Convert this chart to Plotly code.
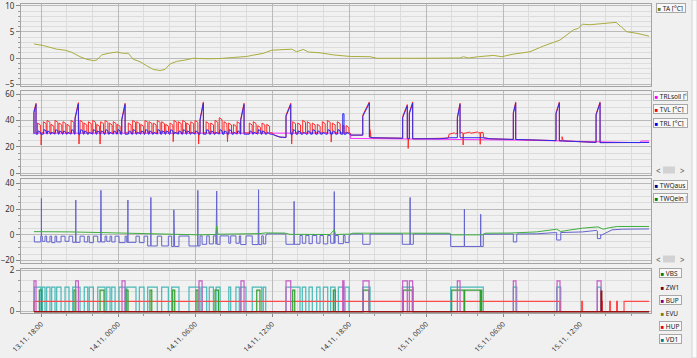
import numpy as np
import plotly.graph_objects as go
from datetime import datetime, timedelta

W, H = 697, 358
BASE = datetime(2019, 11, 13)          # hours below are counted from 13.11. 00:00
T_START, T_END = 17.45, 65.38
X_RANGE = [16.44, 65.53]
FONT = "Noto Sans"

# ---------------- Panel 1: outside temperature ----------------
TA_T = [17.45, 18.18, 19.22, 19.87, 20.39, 21.04, 21.56, 22.08, 22.34, 22.73, 23.24, 23.90, 24.41, 24.80, 25.19,
        25.71, 26.24, 26.75, 27.27, 27.66, 28.05, 28.57, 29.22, 29.87, 30.91, 31.95, 32.98, 34.03, 34.54, 35.32,
        35.98, 37.15, 37.53, 37.92, 38.44, 38.83, 39.74, 40.78, 41.56, 42.08, 43.64, 44.16, 47.28, 50.65, 50.91,
        51.30, 52.08, 53.25, 53.90, 54.80, 56.10, 57.14, 58.44, 59.48, 59.87, 60.18, 60.78, 61.82, 62.81, 63.64,
        64.42, 65.38]
TA_V = [2.7, 2.4, 1.7, 1.5, 1.1, 0.25, -0.25, -0.5, -0.4, 0.6, 0.9, 1.15, 0.9, 0.9, -0.25,
        -0.7, -1.5, -2.2, -2.4, -2.2, -1.15, -0.65, -0.4, -0.05, -0.15, -0.1, 0.1, 0.3, 0.55, 0.9,
        1.5, 1.65, 1.7, 1.2, 1.65, 1.15, 1.0, 0.6, 0.4, 0.3, 0.25, -0.05, -0.05, 0.0, 0.25,
        0.0, 0.25, 0.5, 0.25, 0.75, 1.2, 2.3, 3.45, 5.4, 5.7, 6.5, 6.4, 6.65, 6.85, 5.05,
        4.75, 4.2]

# ---------------- Panel 2: heating circuit ----------------
SOLL_T = [17.45, 42.08, 42.12, 47.14, 51.43, 55.32, 58.44, 61.56, 64.68, 64.75, 65.38]
SOLL_V = [30.3, 30.3, 26.3, 26.0, 25.6, 25.0, 24.4, 23.6, 23.0, 24.3, 24.3]

TRL_BASE_T = [17.62, 36.00, 36.23, 36.62, 37.09, 37.46, 42.08, 42.15, 43.07, 43.79, 45.97, 47.14, 49.09, 49.87,
              52.44, 52.99, 55.32, 58.44, 60.00, 61.56, 65.38]
TRL_BASE_V = [29.5, 29.5, 28.5, 27.3, 27.0, 29.5, 29.5, 28.8, 28.8, 26.8, 26.5, 26.0, 26.0, 26.8,
              26.8, 26.0, 25.4, 24.5, 23.8, 23.1, 23.2]
TVL_BASE_T = [17.62, 36.00, 36.23, 36.62, 37.09, 37.46, 42.08, 42.15, 43.07, 43.79, 45.97, 47.14, 49.09, 49.72,
              49.80, 50.20, 50.30, 50.80, 50.90, 51.40, 51.50, 52.00, 52.10, 52.44, 52.50, 52.99, 55.32, 58.44,
              60.00, 61.56, 65.38]
TVL_BASE_V = [30.5, 30.5, 28.5, 27.3, 27.0, 30.5, 30.5, 28.8, 28.8, 26.8, 26.5, 26.0, 26.0, 26.5,
              29.5, 30.5, 29.8, 30.8, 30.0, 31.0, 30.2, 31.2, 30.5, 31.0, 26.8, 26.0, 25.4, 24.5,
              23.8, 23.1, 23.2]

SPIKE_START = [17.45, 20.65, 24.29, 30.39, 33.56, 37.09, 41.51, 43.07, 46.18, 46.70, 50.44, 54.80, 58.13, 61.25]
SPIKE_END = [17.61, 20.91, 24.55, 30.65, 33.82, 37.46, 41.61, 43.58, 46.54, 46.96, 50.65, 54.99, 58.39, 61.56]
TRL_SPIKE_LOW = [46, 41, 40, 40, 40, 43, 45, 43, 42, 45, 41.5, 45, 45, 44]
TRL_SPIKE_HIGH = [52, 52.5, 52, 53, 52, 52, 45, 53, 51, 53, 52, 53, 53, 53]
TVL_SPIKE_LOW = [47, 42, 41, 41, 41, 44, 36, 44, 43, 46, 42.5, 46, 46, 45]
TVL_SPIKE_HIGH = [53, 53.5, 53, 54, 53, 53, 36, 54, 52, 54, 53, 54, 54, 54]

PULSE_W = 0.22
PULSE_T = [17.73, 18.18, 18.47, 18.78, 19.09, 19.40, 19.71, 20.03, 20.34,
           21.04, 21.35, 21.69, 22.03, 22.34, 22.65, 22.99, 23.32, 23.63, 23.94,
           24.80, 25.14, 25.46, 25.77, 26.10, 26.42, 26.75, 27.06, 27.40, 27.72, 28.05, 28.36, 28.70, 29.04,
           29.35, 29.67, 30.00,
           30.86, 31.22, 31.56, 31.89, 32.26, 32.62, 32.99, 33.28,
           34.23, 34.54, 34.89, 35.22, 35.59,
           37.61, 38.00, 38.39, 38.75, 39.14, 39.53, 39.92, 40.31, 40.70, 41.09,
           41.77]
TVL_PULSE_PEAK = [38, 39, 40, 37, 40, 38, 39, 37, 40,
                  40, 38, 39, 40, 37, 39, 40, 38, 39, 37,
                  38, 40, 39, 37, 40, 39, 38, 40, 39, 37, 38, 40, 39, 40, 38, 39, 40,
                  39, 38, 40, 42, 39, 38, 37, 39,
                  38, 39, 36, 38, 37,
                  39, 38, 40, 39, 38, 37, 39, 40, 38, 39,
                  36]
TRL_PULSE_PEAK = [32, 33, 32, 31, 33, 32, 32, 31, 33,
                  33, 32, 31, 33, 32, 32, 33, 31, 32, 33,
                  32, 33, 31, 32, 33, 32, 31, 33, 32, 32, 33, 31, 32, 33, 32, 31, 32,
                  33, 32, 31, 33, 32, 33, 31, 32,
                  32, 31, 33, 32, 31,
                  33, 32, 31, 32, 33, 32, 31, 33, 32, 33,
                  31]
DIP_T = [18.00, 20.95, 22.59, 28.29, 30.27, 32.52, 37.52, 40.60, 46.60, 50.88, 52.21]
DIP_V = [21.3, 22.0, 22.0, 23.8, 22.0, 23.8, 22.0, 23.5, 18.7, 21.3, 21.8]
TVL_BUMP_T = [43.62, 58.60]
TVL_BUMP_V = [33.0, 27.6]

# ---------------- Panel 3: heat source ----------------
VD1_START = [17.48, 18.10, 18.44, 18.83, 19.22, 19.87, 20.47, 21.37, 21.76, 22.42, 23.12, 23.51, 24.08, 24.68,
             25.66, 26.31, 27.40, 28.18, 29.53, 30.55, 31.11, 31.64, 32.63, 33.19, 33.56, 34.46, 35.32, 37.09,
             38.36, 38.88, 39.48, 40.00, 40.57, 41.17, 41.69, 43.07, 46.15, 49.92, 54.80, 58.18, 61.35]
VD1_END = [17.98, 18.31, 18.70, 19.09, 19.56, 20.18, 21.04, 21.64, 22.08, 22.99, 23.38, 23.77, 24.55, 25.40,
           26.03, 27.06, 27.92, 28.75, 30.39, 30.91, 31.43, 31.95, 32.78, 33.45, 33.97, 35.20, 35.51, 38.18,
           38.63, 39.14, 39.74, 40.34, 40.91, 41.56, 42.00, 43.64, 47.01, 52.46, 55.07, 58.50, 61.61]
AUS_DIP = [-5.5, -5.0, -5.5, -6.0, -5.5, -5.0, -5.8, -5.5, -6.0, -5.5, -5.0, -5.5, -6.0, -5.8,
           -6.0, -8.6, -8.6, -9.0, -8.6, -7.3, -7.0, -7.3, -6.5, -6.5, -7.5, -7.5, -7.0, -7.3,
           -6.5, -6.8, -6.5, -7.0, -6.5, -6.8, -6.0, -7.3, -7.3, -9.0, -5.5, -4.0, -2.9]
AUS_BASE_T = [17.45, 28.0, 30.4, 35.52, 35.6, 37.0, 37.08, 42.02, 42.2, 49.9, 52.5, 54.0, 56.6, 58.1, 58.6,
              60.2, 61.3, 61.65, 62.5, 63.3, 65.38]
AUS_BASE_V = [-1.0, -1.0, -0.8, -0.8, 0.8, 0.8, -0.5, -0.5, 0.7, 0.7, 0.5, 0.6, 0.8, 1.8, 1.8,
              2.3, 3.5, -0.3, 3.9, 4.4, 4.6]
AUS_SPIKE_T = [18.02, 20.70, 22.64, 24.76, 26.55, 28.34, 28.39, 30.21, 31.66, 34.92, 37.71, 40.82, 46.75, 50.98, 52.25]
AUS_SPIKE_H = [28.3, 27.0, 34.5, 27.0, 29.0, 19.4, 19.4, 34.5, 34.0, 35.0, 26.0, 33.6, 29.0, 20.0, 16.0]
AUS_SPIKE_W = [0.02, 0.02, 0.06, 0.02, 0.02, 0.02, 0.02, 0.02, 0.06, 0.06, 0.02, 0.06, 0.02, 0.02, 0.02]

EIN_T = [17.45, 19.48, 20.26, 22.60, 24.93, 26.49, 28.05, 30.39, 31.62, 31.69, 31.78, 32.73, 35.06, 35.45, 36.99,
         37.40, 40.52, 40.85, 40.95, 42.08, 42.3, 49.8, 50.0, 52.4, 52.6, 54.54, 56.10, 56.62, 58.18, 58.50,
         59.20, 60.20, 61.40, 61.80, 62.30, 62.90, 65.38]
EIN_V = [2.5, 2.6, 2.3, 1.8, 1.2, 0.6, 0.2, 0.0, 0.3, 7.0, 0.5, 0.6, 1.0, 1.5, 1.4,
         0.4, 0.3, 4.0, 0.3, 0.6, 1.3, 1.3, 0.0, 0.0, 1.3, 1.4, 1.8, 2.3, 4.4, 2.6,
         3.8, 5.2, 6.2, 4.4, 5.6, 6.5, 6.5]

# ---------------- Panel 4: switching states ----------------
BUP_START = [17.45, 20.70, 24.31, 30.31, 33.58, 37.09, 41.51, 43.09, 46.18, 46.70, 50.44, 54.80, 58.21, 61.33]
BUP_END = [17.61, 20.91, 24.55, 30.55, 33.82, 37.46, 41.61, 43.56, 46.54, 46.96, 50.65, 55.01, 58.44, 61.64]
VBS_START = [17.87, 20.57, 22.60, 24.62, 26.49, 28.26, 30.08, 31.56, 34.81, 37.61, 40.78, 43.11, 46.23, 50.00,
             51.01, 52.27]
VBS_END = [18.05, 20.70, 22.91, 24.78, 26.63, 28.42, 30.23, 31.82, 35.06, 37.77, 40.93, 43.56, 46.93, 50.96,
           52.22, 52.34]
HUP_START = [17.45, 60.13, 61.68, 62.31, 62.85, 63.43]
HUP_END = [58.44, 60.19, 61.74, 62.37, 62.91, 65.38]
ZW1_START = [61.64]
ZW1_END = [61.70]
EVU_START, EVU_END = [], []
LEVEL = {"VBS": 1.05, "ZW1": 1.0, "BUP": 1.5, "EVU": 1.0, "HUP": 0.5, "VD1": 1.2}


# ---------------- helpers ----------------
def hrs(v):
    return [BASE + timedelta(hours=float(h)) for h in v]


def hstr(h):
    return (BASE + timedelta(hours=h)).strftime("%Y-%m-%d %H:%M:%S")


def compose(base_t, base_v, events):
    spans = [(min(p[0] for p in ev), max(p[0] for p in ev)) for ev in events]
    pts = [(t, v) for t, v in zip(base_t, base_v) if not any(a <= t <= b for a, b in spans)]
    for ev in events:
        pts.extend(ev)
    pts.sort(key=lambda p: p[0])
    return [p[0] for p in pts], [p[1] for p in pts]


def step_series(starts, ends, level):
    xs, ys = [T_START], [0.0]
    for s, e in zip(starts, ends):
        xs += [s, s, e]
        ys += [0.0, level, level]
        if e < T_END:
            xs.append(e)
            ys.append(0.0)
    if xs[-1] < T_END:
        xs.append(T_END)
        ys.append(ys[-1])
    return xs, ys


def heating(base_t, base_v, lows, highs, peaks, pulse_kind):
    b = lambda t: float(np.interp(t, base_t, base_v))
    ev = []
    for s, e, lo, hi in zip(SPIKE_START, SPIKE_END, lows, highs):
        ev.append([(s, b(s)), (s, lo), (e, hi), (e, b(e))])
    for t, pk in zip(PULSE_T, peaks):
        if pulse_kind == "tvl":
            ev.append([(t, b(t)), (t, pk), (t + PULSE_W, pk - 1.5), (t + PULSE_W, b(t + PULSE_W))])
        else:
            ev.append([(t, b(t)), (t + 0.06, pk), (t + PULSE_W, pk - 1), (t + PULSE_W + 0.04, b(t + PULSE_W + 0.04))])
    if pulse_kind == "tvl":
        for t, d in zip(DIP_T, DIP_V):
            ev.append([(t, b(t)), (t + 0.01, d), (t + 0.04, b(t + 0.04))])
        for t, pk in zip(TVL_BUMP_T, TVL_BUMP_V):
            ev.append([(t, b(t)), (t, pk), (t + 0.1, b(t + 0.1))])
    return compose(base_t, base_v, ev)


fig = go.Figure()


def line(x, y, color, axis, width=1.0):
    fig.add_trace(go.Scatter(x=hrs(x), y=y, mode="lines", line=dict(color=color, width=width),
                             xaxis="x" + axis, yaxis="y" + axis, hoverinfo="skip"))


# panel 1
line(TA_T, TA_V, "#a9ac3e", "")

# panel 2
line(SOLL_T, SOLL_V, "#ff30ff", "2")
tx, ty = heating(TVL_BASE_T, TVL_BASE_V, TVL_SPIKE_LOW, TVL_SPIKE_HIGH, TVL_PULSE_PEAK, "tvl")
line(tx, ty, "#ff2a2a", "2")
rx, ry = heating(TRL_BASE_T, TRL_BASE_V, TRL_SPIKE_LOW, TRL_SPIKE_HIGH, TRL_PULSE_PEAK, "trl")
line(rx, ry, "#2b2bf0", "2")

# panel 3
ab = lambda t: float(np.interp(t, AUS_BASE_T, AUS_BASE_V))
aus_ev = []
for s, e, lv in zip(VD1_START, VD1_END, AUS_DIP):
    aus_ev.append([(s, ab(s)), (s, lv), (e, lv), (e, ab(e))])


def aus_level(t):
    for s, e, lv in zip(VD1_START, VD1_END, AUS_DIP):
        if s <= t <= e:
            return lv
    return ab(t)


for t, h, w in zip(AUS_SPIKE_T, AUS_SPIKE_H, AUS_SPIKE_W):
    L = aus_level(t)
    aus_ev.append([(t, L), (t + w / 2, h), (t + w, L)])
ax_, ay_ = compose(AUS_BASE_T, AUS_BASE_V, aus_ev)
line(ax_, ay_, "#6464cf", "3")
line(EIN_T, EIN_V, "#3fae3f", "3")

# panel 4
for name, st, en, col in [("EVU", EVU_START, EVU_END, "#808000"),
                          ("VD1", VD1_START, VD1_END, "#48b8b8"),
                          ("HUP", HUP_START, HUP_END, "#ff4a4a"),
                          ("VBS", VBS_START, VBS_END, "#2f9f2f"),
                          ("BUP", BUP_START, BUP_END, "#c45ac4"),
                          ("ZW1", ZW1_START, ZW1_END, "#a01010")]:
    sx, sy = step_series(st, en, LEVEL[name])
    line(sx, sy, col, "4", width=1.2)

# ---------------- axes ----------------
GRID, MINOR_GRID, FRAME = "#bababa", "#dcdcdc", "#a4a4a4"
XD = [21 / W, 651 / W]


def xax(anchor, labels):
    d = dict(type="date", range=[hstr(X_RANGE[0]), hstr(X_RANGE[1])], domain=XD, anchor=anchor,
             tick0=hstr(0), dtick=6 * 3600 * 1000, showgrid=True, gridcolor=GRID, gridwidth=1,
             minor=dict(dtick=2 * 3600 * 1000, showgrid=True, gridcolor=MINOR_GRID),
             showline=True, linecolor=FRAME, mirror=True, zeroline=False, automargin=False)
    if labels:
        d.update(tickformat="%d.%m. %H:%M", tickangle=-45, ticks="outside", ticklen=3, tickcolor="#888",
                 tickfont=dict(size=7, color="#333", family=FONT), ticklabeloverflow="allow")
        d["minor"].update(ticks="outside", ticklen=2, tickcolor="#999")
    else:
        d.update(showticklabels=False, ticks="")
    return d


def yax(top_px, bot_px, rng, dtick, minor, anchor):
    return dict(domain=[1 - bot_px / H, 1 - top_px / H], range=rng, dtick=dtick, tick0=0, anchor=anchor,
                showgrid=True, gridcolor=GRID, zeroline=False, automargin=False, ticklabeloverflow="allow",
                minor=dict(dtick=minor, showgrid=True, gridcolor=MINOR_GRID, ticks="outside", ticklen=2,
                           tickcolor="#999"),
                showline=True, linecolor=FRAME, mirror=True, ticks="outside", ticklen=4, tickcolor="#888",
                tickfont=dict(size=8, color="#333", family=FONT))


fig.update_layout(
    width=W, height=H, margin=dict(l=0, r=0, t=0, b=0), showlegend=False,
    paper_bgcolor="#f0f0f0", plot_bgcolor="#f1f1f1",
    xaxis=xax("y", False), xaxis2=xax("y2", False), xaxis3=xax("y3", False), xaxis4=xax("y4", True),
    yaxis=yax(4, 86, [-5.38, 10.38], 5, 1, "x"),
    yaxis2=yax(91, 175, [-1.5, 62.3], 20, 5, "x2"),
    yaxis3=yax(179, 263, [-21.8, 43.3], 20, 5, "x3"),
    yaxis4=yax(269, 313.3, [-0.08, 2.08], 2, 0.5, "x4"),
)

# ---------------- legend boxes (as annotations) ----------------
LEGENDS = [
    ("TA [°C]", "#808000", 656, 3, 27, True),
    ("TRLsoll [°C]", "#ff00ff", 653, 91, 32, True),
    ("TVL [°C]", "#ff0000", 653, 104, 32, True),
    ("TRL [°C]", "#0000ff", 653, 117.5, 32, True),
    ("TWQaus [°C]", "#000080", 653, 179.5, 32, True),
    ("TWQein [°C]", "#008000", 653, 193, 32, True),
    ("VBS", "#008000", 659, 268, 20, True),
    ("ZW1", "#800000", 659, 281.5, 20, False),
    ("BUP", "#800080", 659, 295, 20, True),
    ("EVU", "#808000", 659, 308, 20, False),
    ("HUP", "#ff0000", 659, 321, 20, True),
    ("VD1", "#008080", 659, 334, 20, True),
]
ann = []
for text, col, x0, y0, w, boxed in LEGENDS:
    ann.append(dict(xref="paper", yref="paper", x=x0 / W, y=1 - y0 / H, xanchor="left", yanchor="top",
                    showarrow=False, align="left", width=w, height=7,
                    text=f"<span style='color:{col};font-size:6px'>■</span> {text}",
                    font=dict(size=6.5, color="#222", family=FONT),
                    bordercolor="#a8a8a8" if boxed else "rgba(0,0,0,0)", borderwidth=1, borderpad=0.5,
                    bgcolor="#f8f8f8" if boxed else "rgba(0,0,0,0)"))
shapes = []
for yc in (170, 259):
    ann.append(dict(xref="paper", yref="paper", x=658 / W, y=1 - yc / H, xanchor="center", yanchor="middle",
                    showarrow=False, text="<", font=dict(size=8, color="#555", family=FONT)))
    ann.append(dict(xref="paper", yref="paper", x=682 / W, y=1 - yc / H, xanchor="center", yanchor="middle",
                    showarrow=False, text=">", font=dict(size=8, color="#555", family=FONT)))
    shapes.append(dict(type="rect", xref="paper", yref="paper", x0=663 / W, x1=675 / W,
                       y0=1 - (yc + 3.5) / H, y1=1 - (yc - 3.5) / H, fillcolor="#d2d2d2", line=dict(width=0)))
shapes.append(dict(type="rect", xref="paper", yref="paper", x0=692 / W, x1=1, y0=0, y1=1,
                   fillcolor="#fbfbfb", line=dict(color="#d4d4d4", width=1)))
fig.update_layout(annotations=ann, shapes=shapes)

fig.write_html("out.html", config={"displayModeBar": False},
               post_script="document.body.style.margin='0';document.body.style.overflow='hidden';")
